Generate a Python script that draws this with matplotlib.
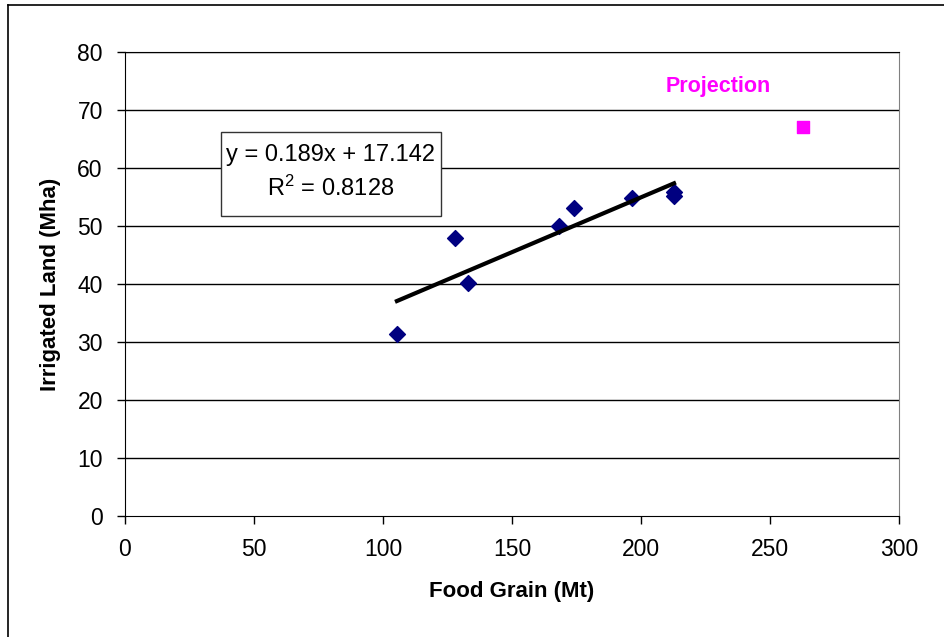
import matplotlib.pyplot as plt
from matplotlib.lines import Line2D
from matplotlib.patches import Rectangle
import numpy as np

plt.rcParams['font.family'] = ['Liberation Sans', 'DejaVu Sans']
plt.rcParams['mathtext.default'] = 'regular'

# Observed food grain vs irrigated land
food_grain = [105.4, 127.8, 132.9, 168.2, 174.0, 196.5, 212.8, 212.8]
irrigated = [31.4, 47.9, 40.2, 50.0, 53.1, 54.8, 55.9, 55.1]

# Projected point
proj_x = [262.8]
proj_y = [67.1]

# Linear trend (from the chart's equation)
slope = 0.189
intercept = 17.142
r_squared = 0.8128

fig = plt.figure(figsize=(9.45, 6.37), dpi=100)
ax = fig.add_axes([125 / 945, 121 / 637, 774 / 945, 464 / 637])

# outer frame of the chart
fig.add_artist(Line2D([8.5 / 945, 8.5 / 945], [0, 1 - 4.5 / 637],
                      color='black', lw=1.2, transform=fig.transFigure))
fig.add_artist(Line2D([8.5 / 945, 1], [1 - 4.5 / 637, 1 - 4.5 / 637],
                      color='black', lw=1.2, transform=fig.transFigure))

for y in range(10, 81, 10):
    ax.axhline(y, color='black', lw=1.0, zorder=1)

ax.scatter(food_grain, irrigated, marker='D', s=65, color='#000080', zorder=3)
ax.scatter(proj_x, proj_y, marker='s', s=65, color='#FF00FF', zorder=3)

xs = np.array([min(food_grain), max(food_grain)])
ax.plot(xs, slope * xs + intercept, color='black', lw=3.0, zorder=4)

# equation label box
ax.add_patch(Rectangle((37.2, 51.7), 85.3, 14.5, fc='white', ec='#333333',
                       lw=1.0, zorder=5))
ax.text(79.6, 59.2, f"y = {slope}x + {intercept}\nR$^2$ = {r_squared}",
        ha='center', va='center', multialignment='center', fontsize=17,
        linespacing=1.45, zorder=6)

ax.text(229.8, 74.0, "Projection", color='#FF00FF', fontsize=15.5,
        fontweight='bold', ha='center', va='center')

ax.set_xlim(0, 300)
ax.set_ylim(0, 80)
ax.set_xticks(range(0, 301, 50))
ax.set_yticks(range(0, 81, 10))
ax.tick_params(direction='out', length=6, width=1, labelsize=16.5, pad=10)

ax.spines['left'].set_color('black')
ax.spines['bottom'].set_color('black')
ax.spines['top'].set_color('black')
ax.spines['right'].set_color('#808080')

ax.set_xlabel("Food Grain (Mt)", fontsize=16, fontweight='bold', labelpad=14)
ax.set_ylabel("Irrigated Land (Mha)", fontsize=16, fontweight='bold', labelpad=12)

fig.savefig('out.png', dpi=100)
